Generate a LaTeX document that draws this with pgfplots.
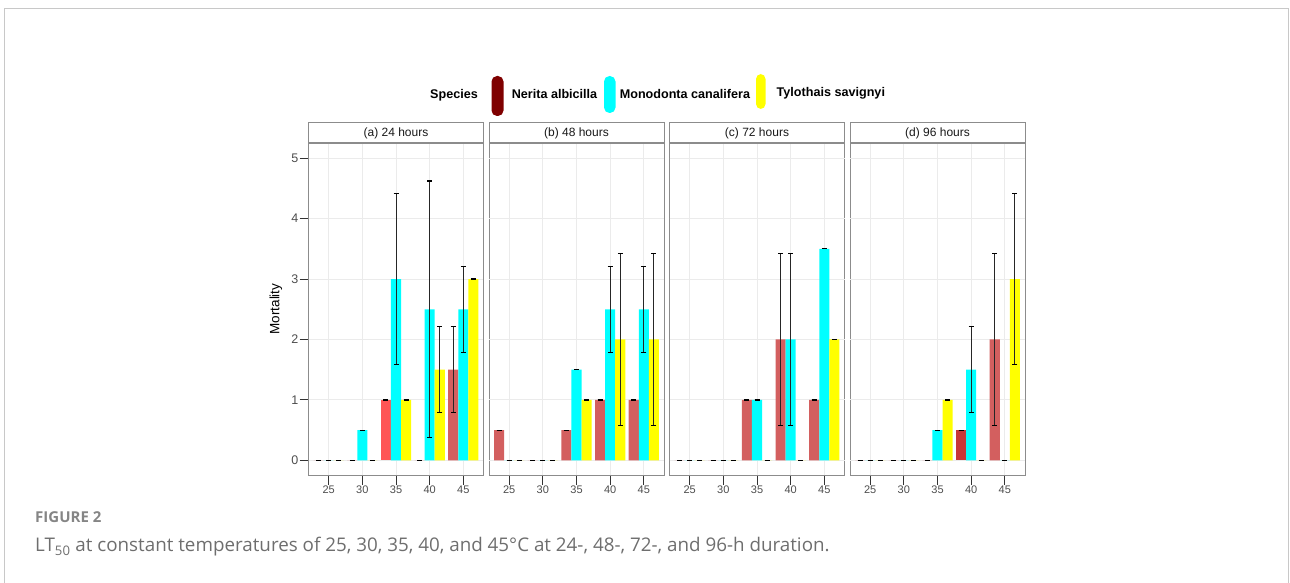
\documentclass[border=0pt]{standalone}
\usepackage{fontspec}
\setmainfont{Liberation Sans}
\newfontfamily\capfont{Open Sans}
\usepackage{pgfplots}
\pgfplotsset{compat=1.18}
\definecolor{nerita}{HTML}{D35F5F}
\definecolor{neritaB}{HTML}{FF5555}
\definecolor{neritaD}{HTML}{C83737}
\definecolor{neritaKey}{HTML}{7F0000}
\definecolor{mono}{HTML}{00FFFF}
\definecolor{tylo}{HTML}{FFFF00}
\definecolor{gridc}{HTML}{EBEBEB}
\definecolor{borderc}{HTML}{8C8C8C}
\definecolor{tickc}{HTML}{333333}
\definecolor{labc}{HTML}{4D4D4D}
\definecolor{framec}{HTML}{C8C8C8}
\definecolor{errc}{HTML}{262626}
\definecolor{figc}{HTML}{858585}
\definecolor{capc}{HTML}{6E6E6E}

\pgfplotsset{
 panel/.style={
  scale only axis, width=175pt, height=332.5pt,
  xmin=0.4, xmax=5.6, ymin=-0.25, ymax=5.25,
  xtick={1,2,3,4,5}, xticklabels={25,30,35,40,45},
  tick pos=left, tick align=outside, major tick length=9pt,
  tick style={color=tickc, line width=1pt},
  axis line style={draw=borderc, line width=1pt},
  grid=major, major grid style={draw=gridc, line width=1pt},
  /pgf/number format/assume math mode=true,
  xticklabel style={font=\fontsize{11}{12}\selectfont, text=labc, inner sep=1pt},
  yticklabel style={font=\fontsize{12.5}{14}\selectfont, text=labc, inner sep=1pt},
 },
 noy/.style={ytick=\empty, extra y ticks={0,1,2,3,4,5}, extra y tick labels={},
  extra y tick style={grid=major, major tick length=0pt}},
 ser/.style={ybar, draw=none, fill=#1, bar width=0.3, bar shift=0,
  error bars/.cd, y dir=both, y explicit,
  error bar style={draw=errc, line width=1pt},
  error mark options={rotate=90, draw=black, line width=1.2pt, mark size=2.5pt}},
}

\begin{document}
\begin{tikzpicture}[x=1pt,y=1pt]
\path[use as bounding box] (0,0) rectangle (1290,582);
% outer frame
\draw[framec, line width=1pt] (4.5,-5) -- (4.5,573) -- (1288.5,573) -- (1288.5,-5);

% (a) 24 hours  (Nerita at x-0.3, Monodonta at x, Tylothais at x+0.3)
\begin{axis}[panel, at={(308.5pt,106.5pt)}, anchor=south west,
  ytick={0,1,2,3,4,5}, yticklabels={0,1,2,3,4,5}]
\addplot[ser=nerita] coordinates {(0.7,0) +- (0,0) (1.7,0) +- (0,0) (3.7,0) +- (0,0) (4.7,1.5) +- (0,0.71)};
\addplot[ser=neritaB] coordinates {(2.7,1) +- (0,0)};
\addplot[ser=mono] coordinates {(1,0) +- (0,0) (2,0.5) +- (0,0) (3,3) +- (0,1.42) (4,2.5) +- (0,2.12) (5,2.5) +- (0,0.71)};
\addplot[ser=tylo] coordinates {(1.3,0) +- (0,0) (2.3,0) +- (0,0) (3.3,1) +- (0,0) (4.3,1.5) +- (0,0.71) (5.3,3) +- (0,0)};
\end{axis}

% (b) 48 hours
\begin{axis}[panel, noy, at={(489pt,106.5pt)}, anchor=south west]
\addplot[ser=nerita] coordinates {(0.7,0.5) +- (0,0) (1.7,0) +- (0,0) (2.7,0.5) +- (0,0) (3.7,1) +- (0,0) (4.7,1) +- (0,0)};
\addplot[ser=mono] coordinates {(1,0) +- (0,0) (2,0) +- (0,0) (3,1.5) +- (0,0) (4,2.5) +- (0,0.71) (5,2.5) +- (0,0.71)};
\addplot[ser=tylo] coordinates {(1.3,0) +- (0,0) (2.3,0) +- (0,0) (3.3,1) +- (0,0) (4.3,2) +- (0,1.42) (5.3,2) +- (0,1.42)};
\end{axis}

% (c) 72 hours
\begin{axis}[panel, noy, at={(669.5pt,106.5pt)}, anchor=south west]
\addplot[ser=nerita] coordinates {(0.7,0) +- (0,0) (1.7,0) +- (0,0) (2.7,1) +- (0,0) (3.7,2) +- (0,1.42) (4.7,1) +- (0,0)};
\addplot[ser=mono] coordinates {(1,0) +- (0,0) (2,0) +- (0,0) (3,1) +- (0,0) (4,2) +- (0,1.42) (5,3.5) +- (0,0)};
\addplot[ser=tylo] coordinates {(1.3,0) +- (0,0) (2.3,0) +- (0,0) (3.3,0) +- (0,0) (4.3,0) +- (0,0) (5.3,2) +- (0,0)};
\end{axis}

% (d) 96 hours
\begin{axis}[panel, noy, at={(850pt,106.5pt)}, anchor=south west]
\addplot[ser=nerita] coordinates {(0.7,0) +- (0,0) (1.7,0) +- (0,0) (2.7,0) +- (0,0) (4.7,2) +- (0,1.42)};
\addplot[ser=neritaD] coordinates {(3.7,0.5) +- (0,0)};
\addplot[ser=mono] coordinates {(1,0) +- (0,0) (2,0) +- (0,0) (3,0.5) +- (0,0) (4,1.5) +- (0,0.71) (5,0) +- (0,0)};
\addplot[ser=tylo] coordinates {(1.3,0) +- (0,0) (2.3,0) +- (0,0) (3.3,1) +- (0,0) (4.3,0) +- (0,0) (5.3,3) +- (0,1.42)};
\end{axis}

% strips
\foreach \xl/\lab in {308.5/{(a) 24 hours}, 489/{(b) 48 hours}, 669.5/{(c) 72 hours}, 850/{(d) 96 hours}}{
  \draw[borderc, line width=1pt, fill=white] (\xl,439) rectangle ++(175,20);
  \node[font=\fontsize{12}{13}\selectfont, text=black!90, inner sep=0] at (\xl+87.5,449) {\lab};
}

% y label
\node[rotate=90, font=\fontsize{13.5}{15}\selectfont, inner sep=0] at (276,273) {Mortality};

% legend
\node[anchor=base west, inner sep=0, font=\fontsize{12.6}{14}\selectfont\bfseries] at (430,483.5) {Species};
\fill[neritaKey, rounded corners=5.5pt] (491.5,466) rectangle (503.5,506);
\node[anchor=base west, inner sep=0, font=\fontsize{12.6}{14}\selectfont\bfseries] at (511.6,483.5) {Nerita albicilla};
\fill[mono, rounded corners=5.5pt] (604,469) rectangle (615.5,506);
\node[anchor=base west, inner sep=0, font=\fontsize{12.6}{14}\selectfont\bfseries] at (619.6,483.5) {Monodonta canalifera};
\fill[tylo, rounded corners=5pt] (756,473) rectangle (765.5,508);
\node[anchor=base west, inner sep=0, font=\fontsize{12.6}{14}\selectfont\bfseries] at (776.5,485.5) {Tylothais savignyi};

% caption
\node[anchor=base west, inner sep=0, font=\capfont\bfseries\fontsize{15}{17}\selectfont, text=figc] at (35,60) {FIGURE 2};
\node[anchor=base west, inner sep=0, font=\capfont\fontsize{18.8}{20}\selectfont, text=capc] at (35,30.5) {LT\textsubscript{50} at constant temperatures of 25, 30, 35, 40, and 45°C at 24-, 48-, 72-, and 96-h duration.};
\end{tikzpicture}
\end{document}
